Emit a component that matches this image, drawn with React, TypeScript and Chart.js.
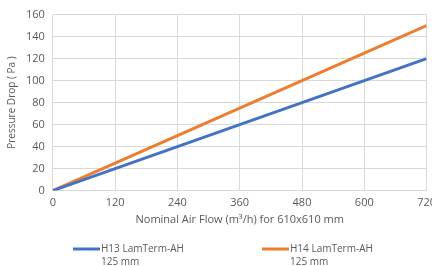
import React, { useEffect, useRef } from "react";
import { Chart, registerables } from "chart.js";

Chart.register(...registerables);

const airFlow = [0, 120, 240, 360, 480, 600, 720];
const h13 = [0, 20, 40, 60, 80, 100, 120];
const h14 = [0, 25, 50, 75, 100, 125, 150];
const seriesNames = [["H13 LamTerm-AH", "125 mm"], ["H14 LamTerm-AH", "125 mm"]];
const seriesColors = ["#4472C4", "#ED7D31"];
const xTitle = "Nominal Air Flow (m³/h) for 610x610 mm";
const yTitle = "Pressure Drop ( Pa )";

const FONT = "'Open Sans', sans-serif";
const TEXT = "#595959";

const legendPlugin = {
  id: "twoLineLegend",
  afterDraw(chart: any) {
    const ctx = chart.ctx;
    const starts = [73, 262];
    const y = 249;
    ctx.save();
    ctx.font = `10px ${FONT}`;
    ctx.fillStyle = TEXT;
    ctx.textBaseline = "middle";
    ctx.textAlign = "left";
    starts.forEach((x0, i) => {
      ctx.strokeStyle = seriesColors[i];
      ctx.lineWidth = 3;
      ctx.beginPath();
      ctx.moveTo(x0, y);
      ctx.lineTo(x0 + 27, y);
      ctx.stroke();
      ctx.fillText(seriesNames[i][0], x0 + 28, y);
      ctx.fillText(seriesNames[i][1], x0 + 28, y + 13);
    });
    ctx.restore();
  },
};

export default function App() {
  const ref = useRef<HTMLCanvasElement>(null);
  useEffect(() => {
    if (!ref.current) return;
    const chart = new Chart(ref.current, {
      type: "line",
      data: {
        datasets: [h13, h14].map((vals, i) => ({
          label: seriesNames[i].join(" "),
          data: vals.map((v, j) => ({ x: airFlow[j], y: v })),
          borderColor: seriesColors[i],
          backgroundColor: seriesColors[i],
          borderWidth: 3,
          pointRadius: 0,
          tension: 0,
        })),
      },
      options: {
        animation: false,
        responsive: false,
        maintainAspectRatio: false,
        layout: { padding: { left: 6, right: 0, top: 11, bottom: 40 } },
        plugins: { legend: { display: false }, tooltip: { enabled: false } },
        scales: {
          x: {
            type: "linear",
            min: 0,
            max: 720,
            ticks: { stepSize: 120, color: TEXT, font: { family: FONT, size: 11 }, padding: 6, maxRotation: 0 },
            grid: { color: "#d9d9d9", drawTicks: false, lineWidth: 1 },
            border: { display: false },
            title: { display: true, text: xTitle, color: TEXT, font: { family: FONT, size: 11 }, padding: { top: -3, bottom: 0 } },
          },
          y: {
            min: 0,
            max: 160,
            ticks: { stepSize: 20, color: TEXT, font: { family: FONT, size: 11 }, padding: 8 },
            grid: { color: "#d9d9d9", drawTicks: false, lineWidth: 1 },
            border: { display: false },
            title: { display: true, text: yTitle, color: TEXT, font: { family: FONT, size: 10 }, padding: { top: 0, bottom: 0 } },
          },
        },
      },
      plugins: [legendPlugin],
    });
    return () => chart.destroy();
  }, []);
  return (
    <div style={{ position: "fixed", left: 0, top: 0, width: 432, height: 266, overflow: "hidden", background: "#fff" }}>
      <canvas ref={ref} width={442} height={266} style={{ width: 442, height: 266, display: "block" }} />
    </div>
  );
}
